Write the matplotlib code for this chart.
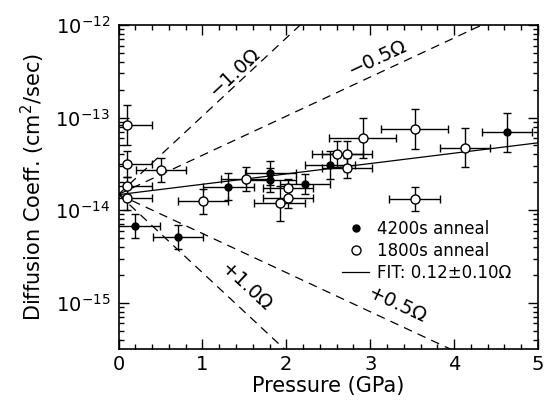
import numpy as np
import matplotlib
matplotlib.use("Agg")
import matplotlib.pyplot as plt
from matplotlib.ticker import MultipleLocator, LogLocator, NullFormatter, FixedLocator
from matplotlib.lines import Line2D

# ---- data ----
# 4200 s anneal (filled)
p_4200 = [0.20, 0.71, 1.31, 1.81, 1.81, 2.22, 2.52, 4.63]
d_4200 = [6.7e-15, 5.1e-15, 1.8e-14, 2.5e-14, 2.13e-14, 1.93e-14, 3.1e-14, 6.9e-14]
xerr_4200 = [0.3, 0.3, 0.3, 0.3, 0.3, 0.3, 0.3, 0.3]
yerr_dex_4200 = [0.13, 0.13, 0.15, 0.13, 0.13, 0.11, 0.15, 0.21]

# 1800 s anneal (open)
p_1800 = [0.10, 0.10, 0.51, 0.10, 0.10, 1.01, 1.52, 1.92, 2.02, 2.02,
          2.61, 2.72, 2.72, 2.91, 3.53, 4.13, 3.53]
d_1800 = [8.3e-14, 3.16e-14, 2.73e-14, 1.83e-14, 1.35e-14, 1.24e-14, 2.18e-14,
          1.19e-14, 1.73e-14, 1.35e-14, 4.03e-14, 4.03e-14, 2.84e-14, 6.0e-14,
          7.55e-14, 4.75e-14, 1.32e-14]
xerr_1800 = [0.3, 0.3, 0.3, 0.3, 0.3, 0.3, 0.3, 0.3, 0.3, 0.3,
             0.3, 0.3, 0.3, 0.4, 0.4, 0.3, 0.3]
yerr_dex_1800 = [0.22, 0.14, 0.13, 0.10, 0.13, 0.13, 0.13, 0.19, 0.10, 0.11,
                 0.14, 0.14, 0.11, 0.22, 0.22, 0.21, 0.13]

# reference lines for activation volumes (units of atomic volume)
omega_values = [-1.0, -0.5, 0.5, 1.0]
omega_labels = ["\u22121.0\u03a9", "\u22120.5\u03a9", "+1.0\u03a9", "+0.5\u03a9"]
label_pos_p = [1.39, 3.09, 1.53, 3.32]
label_pos_d = [3.11e-13, 4.4e-13, 1.46e-15, 9.5e-16]
label_rot = [43, 25, -43, -25]
d0 = 1.48e-14            # common intercept at P = 0
dex_per_gpa_omega = 0.845  # decades per GPa per atomic volume

fit_intercept = 1.47e-14
fit_dex_per_gpa = 0.112
fit_label = "FIT: 0.12\u00b10.10\u03a9"

xlim = (0, 5)
ylim = (10 ** -15.5, 1e-12)
y_major_ticks = [1e-15, 1e-14, 1e-13, 1e-12]

# ---- figure ----
fig = plt.figure(figsize=(5.45, 4.01), dpi=100)
ax = fig.add_axes([118.5 / 545, 1 - 349 / 401, (538 - 118.5) / 545, (349 - 25) / 401])
ax.set_yscale("log")
ax.set_xlim(*xlim)
ax.set_ylim(*ylim)

pp = np.linspace(0, 5, 200)
for om in omega_values:
    ax.plot(pp, d0 * 10 ** (-om * dex_per_gpa_omega * pp), color="black",
            lw=0.9, dashes=(7, 5))

ax.plot(pp, fit_intercept * 10 ** (fit_dex_per_gpa * pp), color="black", lw=0.9)


def draw(p, d, xe, ye, face, ms):
    p = np.array(p); d = np.array(d); ye = np.array(ye)
    lo = d - d * 10 ** (-ye)
    hi = d * 10 ** ye - d
    ax.errorbar(p, d, xerr=xe, yerr=[lo, hi], fmt="o", color="black",
                mfc=face, mec="black", ms=ms, mew=1.0, elinewidth=1.0,
                capsize=3, capthick=1.0, zorder=3)


draw(p_1800, d_1800, xerr_1800, yerr_dex_1800, "white", 6.5)
draw(p_4200, d_4200, xerr_4200, yerr_dex_4200, "black", 5.0)

for lab, pxv, dyv, rot in zip(omega_labels, label_pos_p, label_pos_d, label_rot):
    ax.text(pxv, dyv, lab, rotation=rot, rotation_mode="anchor", ha="center",
            va="center", fontsize=14, color="black")

handles = [
    Line2D([], [], marker="o", ls="none", color="black", mfc="black", ms=5),
    Line2D([], [], marker="o", ls="none", color="black", mfc="white", ms=6.5, mew=1.0),
    Line2D([], [], color="black", lw=0.9),
]
leg = ax.legend(handles, ["4200s anneal", "1800s anneal", fit_label],
                loc="upper left", bbox_to_anchor=(0.518, 0.42), frameon=False,
                fontsize=12, handlelength=1.6, handletextpad=0.5,
                labelspacing=0.25, borderaxespad=0)

ax.xaxis.set_major_locator(MultipleLocator(1))
ax.xaxis.set_minor_locator(MultipleLocator(0.2))
ax.yaxis.set_major_locator(FixedLocator(y_major_ticks))
ax.yaxis.set_minor_locator(LogLocator(base=10, subs=np.arange(2, 10), numticks=20))
ax.yaxis.set_minor_formatter(NullFormatter())
ax.tick_params(which="both", direction="in", top=True, right=True, width=1.0,
               labelsize=14)
ax.tick_params(which="major", length=7)
ax.tick_params(which="minor", length=3.5)
ax.tick_params(axis="x", pad=4)
ax.tick_params(axis="y", pad=6)
for s in ax.spines.values():
    s.set_linewidth(1.2)

ax.set_xlabel("Pressure (GPa)", fontsize=15, labelpad=2)
ax.set_ylabel("Diffusion Coeff. (cm$^2$/sec)", fontsize=15, labelpad=6)

fig.savefig("out.png", dpi=100)
